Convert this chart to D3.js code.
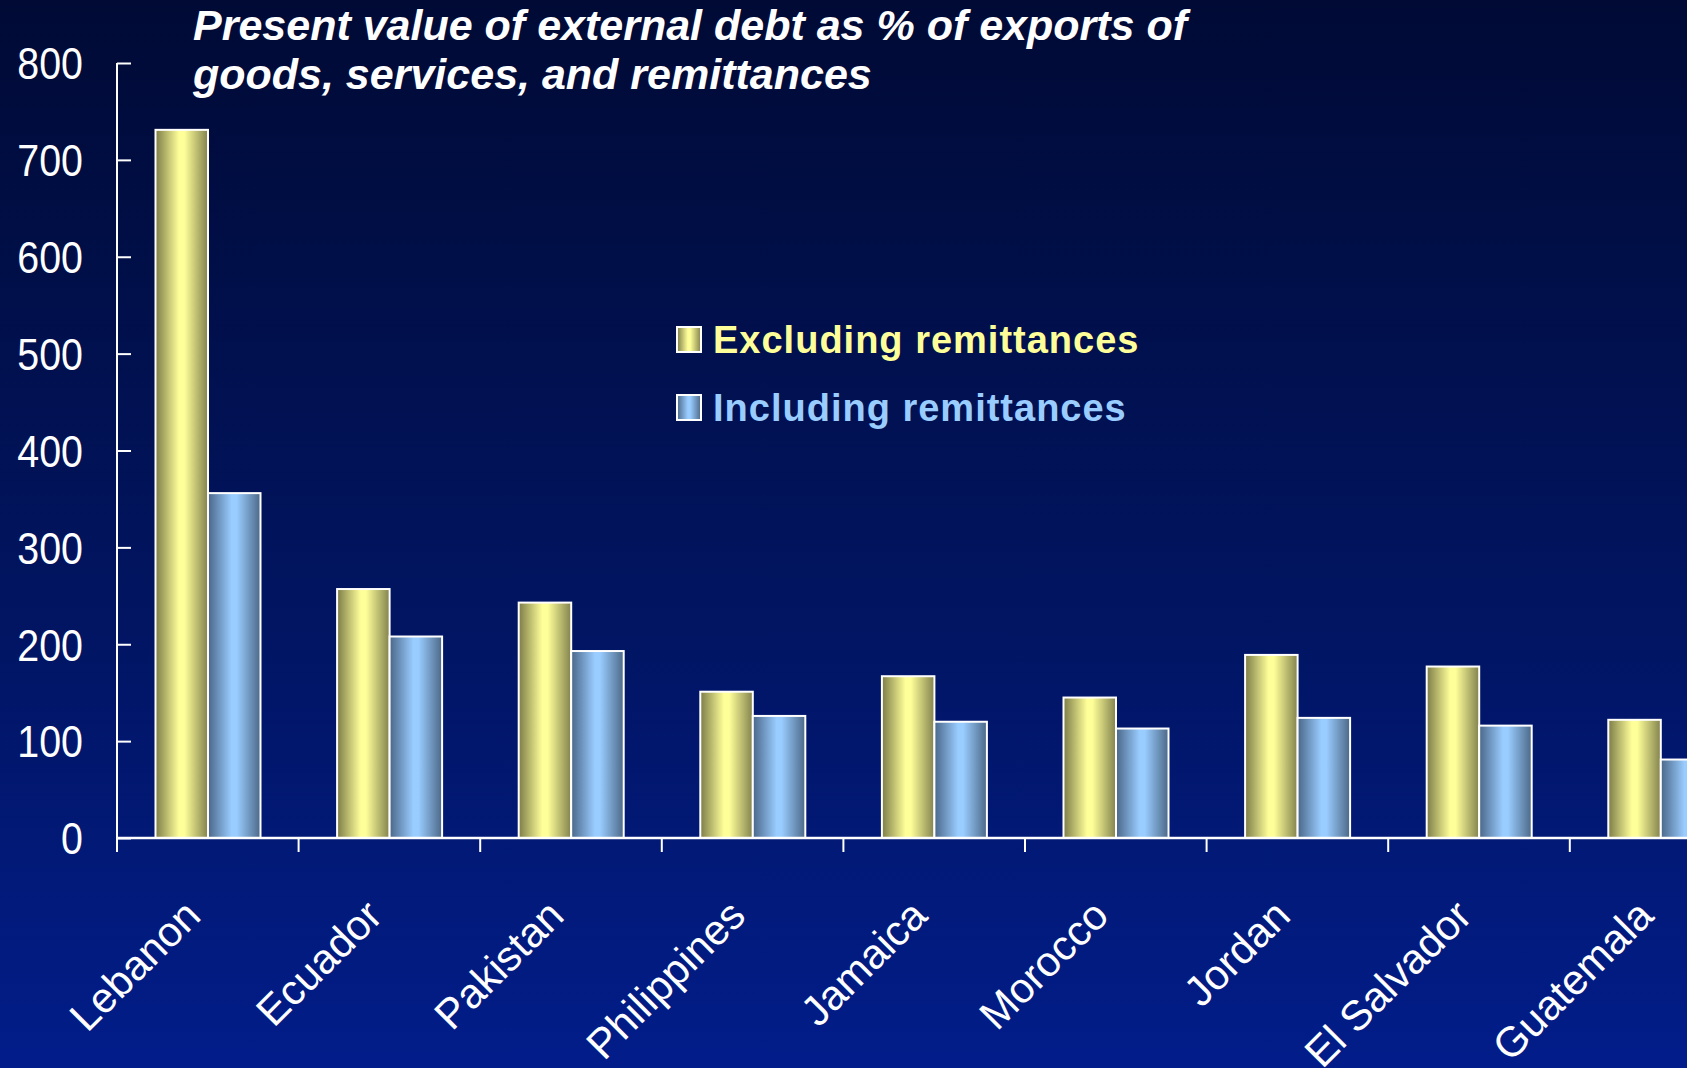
<!DOCTYPE html>
<html>
<head>
<meta charset="utf-8">
<script src="https://cdn.jsdelivr.net/npm/d3@7"></script>
<style>
  html, body { margin: 0; padding: 0; background: #000b38; }
  svg { display: block; }
</style>
</head>
<body>
<svg id="chart" width="1687" height="1068"></svg>
<script>
// ---- data ----
const categories = ["Lebanon", "Ecuador", "Pakistan", "Philippines", "Jamaica", "Morocco", "Jordan", "El Salvador", "Guatemala"];
const seriesNames = ["Excluding remittances", "Including remittances"];
const excludingRemittances = [731, 257, 243, 151, 167, 145, 189, 177, 122];
const includingRemittances = [356, 208, 193, 126, 120, 113, 124, 116, 81];
const yTicks = [0, 100, 200, 300, 400, 500, 600, 700, 800];
const titleLines = ["Present value of external debt as % of exports of", "goods, services, and remittances"];

const W = 1687, H = 1068;
const svg = d3.select("#chart");
const defs = svg.append("defs");

// background gradient
const bg = defs.append("linearGradient").attr("id", "bg").attr("x1", 0).attr("y1", 0).attr("x2", 0).attr("y2", 1);
bg.append("stop").attr("offset", 0).attr("stop-color", "#000a35");
bg.append("stop").attr("offset", 0.55).attr("stop-color", "#01145f");
bg.append("stop").attr("offset", 1).attr("stop-color", "#021d8a");
svg.append("rect").attr("width", W).attr("height", H).attr("fill", "url(#bg)");

function barGrad(id, dark, light, dark2) {
  const g = defs.append("linearGradient").attr("id", id).attr("x1", 0).attr("y1", 0).attr("x2", 1).attr("y2", 0);
  g.append("stop").attr("offset", 0).attr("stop-color", dark);
  g.append("stop").attr("offset", 0.45).attr("stop-color", light);
  g.append("stop").attr("offset", 0.55).attr("stop-color", light);
  g.append("stop").attr("offset", 1).attr("stop-color", dark2);
}
barGrad("gYellow", "#7c7c48", "#ffff99", "#82824e");
barGrad("gBlue", "#4a6688", "#99ccff", "#4c6887");
const fills = ["url(#gYellow)", "url(#gBlue)"];
const textColors = ["#ffff99", "#99ccff"];

// scales
const x0 = 117, step = 181.6;
const x = d3.scaleBand().domain(categories).range([x0, x0 + step * categories.length]).padding(0);
const x1 = d3.scaleBand().domain(seriesNames).range([38.5, 143.5]).padding(0);
const y = d3.scaleLinear().domain([0, 800]).range([838, 63]);

const rows = categories.map((c, i) => ({ cat: c, vals: [excludingRemittances[i], includingRemittances[i]] }));

// bars
const groups = svg.append("g").selectAll("g").data(rows).join("g")
  .attr("transform", d => `translate(${x(d.cat)},0)`);
groups.selectAll("rect").data(d => d.vals.map((v, j) => ({ v, s: seriesNames[j], j })))
  .join("rect")
  .attr("x", d => x1(d.s))
  .attr("width", x1.bandwidth())
  .attr("y", d => y(d.v))
  .attr("height", d => y(0) - y(d.v))
  .attr("fill", d => fills[d.j])
  .attr("stroke", "#ffffff")
  .attr("stroke-width", 2);

// y axis
const yAxis = d3.axisLeft(y).tickValues(yTicks).tickSize(-14).tickPadding(34).tickFormat(d3.format("d"));
const gy = svg.append("g").attr("transform", `translate(${x0},0)`).call(yAxis);
gy.select(".domain").remove();
gy.selectAll(".tick line").attr("stroke", "#ffffff").attr("stroke-width", 2);
gy.selectAll(".tick text")
  .attr("fill", "#ffffff")
  .style("font-family", "'Liberation Sans', Arial, sans-serif")
  .style("font-size", "44px")
  .attr("dy", "0.36em")
  .attr("textLength", d => String(d).length * 21.9)
  .attr("lengthAdjust", "spacingAndGlyphs");
svg.append("line").attr("x1", x0).attr("x2", x0).attr("y1", y(800)).attr("y2", y(0) + 14)
  .attr("stroke", "#ffffff").attr("stroke-width", 2);

// x axis baseline
svg.append("line").attr("x1", x0).attr("x2", W).attr("y1", y(0)).attr("y2", y(0))
  .attr("stroke", "#ffffff").attr("stroke-width", 2.5);
// boundary ticks
svg.append("g").selectAll("line").data(categories).join("line")
  .attr("x1", d => x(d)).attr("x2", d => x(d))
  .attr("y1", y(0)).attr("y2", y(0) + 14)
  .attr("stroke", "#ffffff").attr("stroke-width", 2);

// x labels
svg.append("g").selectAll("text").data(categories).join("text")
  .attr("transform", d => `translate(${x(d) + x.bandwidth() / 2 - 5},918) rotate(-45)`)
  .attr("text-anchor", "end")
  .attr("fill", "#ffffff")
  .style("font-family", "'Liberation Sans', Arial, sans-serif")
  .style("font-size", "42px")
  .text(d => d);

// title
svg.append("g").selectAll("text").data(titleLines).join("text")
  .attr("x", 193)
  .attr("y", (d, i) => 40 + i * 49)
  .attr("fill", "#ffffff")
  .style("font-family", "'Liberation Sans', Arial, sans-serif")
  .style("font-size", "43px")
  .style("font-weight", "bold")
  .style("font-style", "italic")
  .text(d => d);

// legend
const legend = svg.append("g").selectAll("g").data(seriesNames).join("g")
  .attr("transform", (d, i) => `translate(677,${327 + i * 68})`);
legend.append("rect")
  .attr("width", 24).attr("height", 25)
  .attr("fill", (d, i) => fills[i])
  .attr("stroke", "#ffffff").attr("stroke-width", 2);
legend.append("text")
  .attr("x", 36).attr("y", 26)
  .attr("fill", (d, i) => textColors[i])
  .style("font-family", "'Liberation Sans', Arial, sans-serif")
  .style("font-size", "38px")
  .style("font-weight", "bold")
  .style("letter-spacing", "1px")
  .text(d => d);
</script>
</body>
</html>
